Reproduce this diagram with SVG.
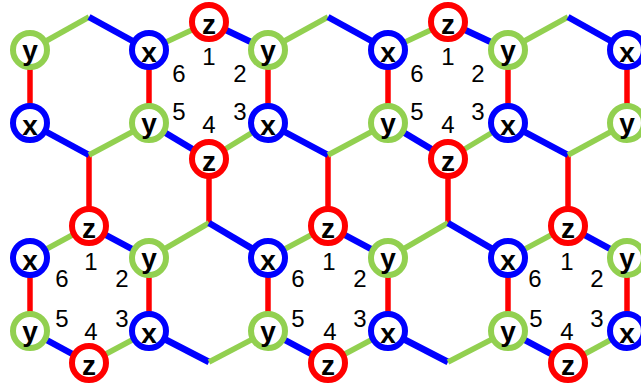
<svg xmlns="http://www.w3.org/2000/svg" width="641" height="389" viewBox="0 0 641 389">
<style>
.r{stroke:#ff0000;stroke-width:5.5;fill:none}
.g{stroke:#92d050;stroke-width:5.5;fill:none}
.b{stroke:#0000ff;stroke-width:6.5;fill:none}
.nx{fill:#fff;stroke:#0000ff;stroke-width:6}
.ny{fill:#fff;stroke:#92d050;stroke-width:6}
.nz{fill:#fff;stroke:#ff0000;stroke-width:6}
.lb{font-family:"Liberation Sans",Arial,sans-serif;font-weight:bold;font-size:28px;text-anchor:middle;fill:#000}
.num{font-family:"Liberation Sans",Arial,sans-serif;font-size:24px;text-anchor:middle;fill:#000}
</style>
<rect width="641" height="389" fill="#fff"/>
<g id="connectors">
<line class="r" x1="30" y1="50" x2="30" y2="123"/>
<line class="r" x1="149" y1="50" x2="149" y2="123"/>
<line class="r" x1="268" y1="50" x2="268" y2="123"/>
<line class="r" x1="388" y1="50" x2="388" y2="123"/>
<line class="r" x1="508" y1="50" x2="508" y2="123"/>
<line class="r" x1="627" y1="50" x2="627" y2="123"/>
<line class="r" x1="89" y1="155" x2="89" y2="226"/>
<line class="r" x1="209" y1="159" x2="209" y2="223"/>
<line class="r" x1="328" y1="155" x2="328" y2="226"/>
<line class="r" x1="448" y1="159" x2="448" y2="223"/>
<line class="r" x1="568" y1="155" x2="568" y2="226"/>
<line class="r" x1="30" y1="258" x2="30" y2="331"/>
<line class="r" x1="149" y1="258" x2="149" y2="331"/>
<line class="r" x1="268" y1="258" x2="268" y2="331"/>
<line class="r" x1="388" y1="258" x2="388" y2="331"/>
<line class="r" x1="508" y1="258" x2="508" y2="331"/>
<line class="r" x1="627" y1="258" x2="627" y2="331"/>
<line class="g" x1="89" y1="17" x2="30" y2="50"/>
<line class="b" x1="89" y1="17" x2="149" y2="50"/>
<line class="g" x1="209" y1="22" x2="149" y2="50"/>
<line class="b" x1="209" y1="22" x2="268" y2="50"/>
<line class="g" x1="328" y1="17" x2="268" y2="50"/>
<line class="b" x1="328" y1="17" x2="388" y2="50"/>
<line class="g" x1="448" y1="22" x2="388" y2="50"/>
<line class="b" x1="448" y1="22" x2="508" y2="50"/>
<line class="g" x1="568" y1="17" x2="508" y2="50"/>
<line class="b" x1="568" y1="17" x2="627" y2="50"/>
<line class="b" x1="30" y1="123" x2="89" y2="155"/>
<line class="g" x1="89" y1="155" x2="149" y2="123"/>
<line class="b" x1="149" y1="123" x2="209" y2="159"/>
<line class="g" x1="209" y1="159" x2="268" y2="123"/>
<line class="b" x1="268" y1="123" x2="328" y2="155"/>
<line class="g" x1="328" y1="155" x2="388" y2="123"/>
<line class="b" x1="388" y1="123" x2="448" y2="159"/>
<line class="g" x1="448" y1="159" x2="508" y2="123"/>
<line class="b" x1="508" y1="123" x2="568" y2="155"/>
<line class="g" x1="568" y1="155" x2="627" y2="123"/>
<line class="g" x1="89" y1="226" x2="30" y2="258"/>
<line class="b" x1="89" y1="226" x2="149" y2="258"/>
<line class="g" x1="209" y1="223" x2="149" y2="258"/>
<line class="b" x1="209" y1="223" x2="268" y2="258"/>
<line class="g" x1="328" y1="226" x2="268" y2="258"/>
<line class="b" x1="328" y1="226" x2="388" y2="258"/>
<line class="g" x1="448" y1="223" x2="388" y2="258"/>
<line class="b" x1="448" y1="223" x2="508" y2="258"/>
<line class="g" x1="568" y1="226" x2="508" y2="258"/>
<line class="b" x1="568" y1="226" x2="627" y2="258"/>
<line class="b" x1="30" y1="331" x2="89" y2="363"/>
<line class="g" x1="89" y1="363" x2="149" y2="331"/>
<line class="b" x1="149" y1="331" x2="209" y2="362"/>
<line class="g" x1="209" y1="362" x2="268" y2="331"/>
<line class="b" x1="268" y1="331" x2="328" y2="363"/>
<line class="g" x1="328" y1="363" x2="388" y2="331"/>
<line class="b" x1="388" y1="331" x2="448" y2="362"/>
<line class="g" x1="448" y1="362" x2="508" y2="331"/>
<line class="b" x1="508" y1="331" x2="568" y2="363"/>
<line class="g" x1="568" y1="363" x2="627" y2="331"/>
</g>
<g id="n1"><circle class="ny" cx="30" cy="50" r="17"/><text class="lb" x="30" y="60">y</text></g>
<g id="n2"><circle class="nx" cx="30" cy="123" r="17"/><text class="lb" x="30" y="135">x</text></g>
<g id="n3"><circle class="nx" cx="149" cy="50" r="17"/><text class="lb" x="149" y="62">x</text></g>
<g id="n4"><circle class="ny" cx="149" cy="123" r="17"/><text class="lb" x="149" y="133">y</text></g>
<g id="n5"><circle class="nz" cx="209" cy="22" r="17"/><text class="lb" x="209" y="34">z</text></g>
<g id="n6"><circle class="ny" cx="268" cy="50" r="17"/><text class="lb" x="268" y="60">y</text></g>
<g id="n7"><circle class="nx" cx="268" cy="123" r="17"/><text class="lb" x="268" y="135">x</text></g>
<g id="n8"><circle class="nz" cx="209" cy="159" r="17"/><text class="lb" x="209" y="171">z</text></g>
<g id="n9"><circle class="nx" cx="388" cy="50" r="17"/><text class="lb" x="388" y="62">x</text></g>
<g id="n10"><circle class="ny" cx="388" cy="123" r="17"/><text class="lb" x="388" y="133">y</text></g>
<g id="n11"><circle class="nz" cx="448" cy="22" r="17"/><text class="lb" x="448" y="34">z</text></g>
<g id="n12"><circle class="ny" cx="508" cy="50" r="17"/><text class="lb" x="508" y="60">y</text></g>
<g id="n13"><circle class="nx" cx="508" cy="123" r="17"/><text class="lb" x="508" y="135">x</text></g>
<g id="n14"><circle class="nz" cx="448" cy="159" r="17"/><text class="lb" x="448" y="171">z</text></g>
<g id="n15"><circle class="nx" cx="627" cy="50" r="17"/><text class="lb" x="627" y="62">x</text></g>
<g id="n16"><circle class="ny" cx="627" cy="123" r="17"/><text class="lb" x="627" y="133">y</text></g>
<g id="n17"><circle class="nz" cx="89" cy="226" r="17"/><text class="lb" x="89" y="238">z</text></g>
<g id="n18"><circle class="nx" cx="30" cy="258" r="17"/><text class="lb" x="30" y="270">x</text></g>
<g id="n19"><circle class="ny" cx="149" cy="258" r="17"/><text class="lb" x="149" y="268">y</text></g>
<g id="n20"><circle class="ny" cx="30" cy="331" r="17"/><text class="lb" x="30" y="341">y</text></g>
<g id="n21"><circle class="nx" cx="149" cy="331" r="17"/><text class="lb" x="149" y="343">x</text></g>
<g id="n22"><circle class="nz" cx="89" cy="363" r="17"/><text class="lb" x="89" y="375">z</text></g>
<g id="n23"><circle class="nx" cx="268" cy="258" r="17"/><text class="lb" x="268" y="270">x</text></g>
<g id="n24"><circle class="ny" cx="268" cy="331" r="17"/><text class="lb" x="268" y="341">y</text></g>
<g id="n25"><circle class="nz" cx="328" cy="226" r="17"/><text class="lb" x="328" y="238">z</text></g>
<g id="n26"><circle class="ny" cx="388" cy="258" r="17"/><text class="lb" x="388" y="268">y</text></g>
<g id="n27"><circle class="nx" cx="388" cy="331" r="17"/><text class="lb" x="388" y="343">x</text></g>
<g id="n28"><circle class="nz" cx="328" cy="363" r="17"/><text class="lb" x="328" y="375">z</text></g>
<g id="n29"><circle class="nx" cx="508" cy="258" r="17"/><text class="lb" x="508" y="270">x</text></g>
<g id="n30"><circle class="ny" cx="508" cy="331" r="17"/><text class="lb" x="508" y="341">y</text></g>
<g id="n31"><circle class="nz" cx="568" cy="226" r="17"/><text class="lb" x="568" y="238">z</text></g>
<g id="n32"><circle class="ny" cx="627" cy="258" r="17"/><text class="lb" x="627" y="268">y</text></g>
<g id="n33"><circle class="nx" cx="627" cy="331" r="17"/><text class="lb" x="627" y="343">x</text></g>
<g id="n34"><circle class="nz" cx="568" cy="363" r="17"/><text class="lb" x="568" y="375">z</text></g>
<g id="labels-top1">
<text class="num" x="209" y="65">1</text><text class="num" x="240" y="82">2</text><text class="num" x="240" y="120">3</text>
<text class="num" x="209" y="133">4</text><text class="num" x="179" y="120">5</text><text class="num" x="179" y="82">6</text>
</g>
<g id="labels-top2">
<text class="num" x="448" y="65">1</text><text class="num" x="478" y="82">2</text><text class="num" x="478" y="120">3</text>
<text class="num" x="448" y="133">4</text><text class="num" x="417" y="120">5</text><text class="num" x="417" y="82">6</text>
</g>
<g id="labels-bot1">
<text class="num" x="91" y="270">1</text><text class="num" x="122" y="287">2</text><text class="num" x="122" y="327">3</text>
<text class="num" x="91" y="340">4</text><text class="num" x="62" y="327">5</text><text class="num" x="62" y="287">6</text>
</g>
<g id="labels-bot2">
<text class="num" x="329" y="270">1</text><text class="num" x="360" y="287">2</text><text class="num" x="360" y="327">3</text>
<text class="num" x="330" y="340">4</text><text class="num" x="298" y="327">5</text><text class="num" x="298" y="287">6</text>
</g>
<g id="labels-bot3">
<text class="num" x="567" y="270">1</text><text class="num" x="597" y="287">2</text><text class="num" x="597" y="327">3</text>
<text class="num" x="567" y="340">4</text><text class="num" x="536" y="327">5</text><text class="num" x="535" y="287">6</text>
</g>
</svg>
